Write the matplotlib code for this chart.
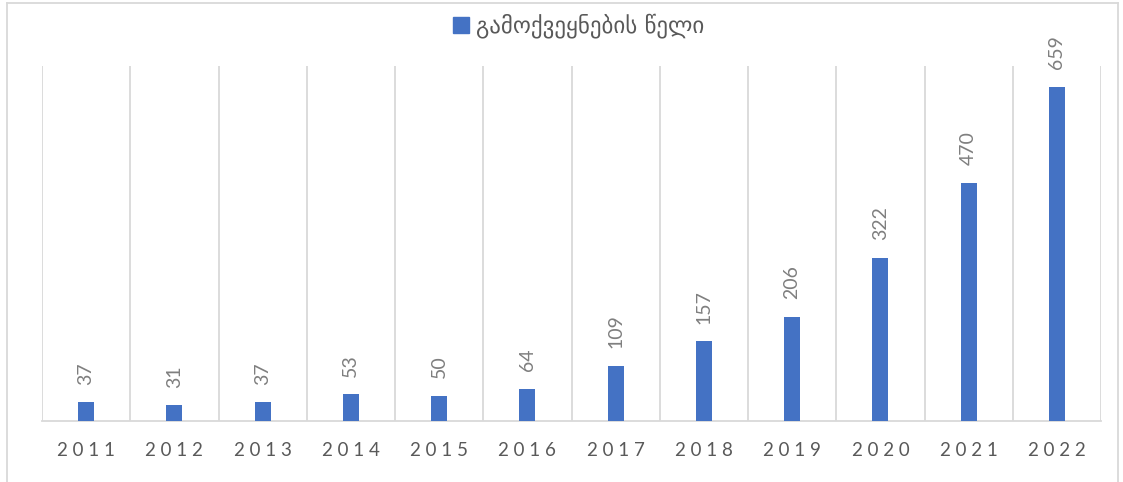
import matplotlib
matplotlib.use("Agg")
import matplotlib.pyplot as plt
from matplotlib.lines import Line2D
from matplotlib.patches import Rectangle

years = ["2011", "2012", "2013", "2014", "2015", "2016",
         "2017", "2018", "2019", "2020", "2021", "2022"]
counts = [37, 31, 37, 53, 50, 64, 109, 157, 206, 322, 470, 659]
series_name = "გამოქვეყნების წელი"

bar_color = "#4472C4"
grid_color = "#D9D9D9"
tick_color = "#595959"
value_color = "#7F7F7F"

fig = plt.figure(figsize=(11.23, 4.82), dpi=100)
ax = fig.add_axes([42 / 1123, 1 - 421 / 482, (1101 - 42) / 1123, (421 - 66) / 482])

x = list(range(len(years)))
ax.bar(x, counts, width=0.18, color=bar_color, zorder=3)

ax.set_xlim(-0.5, len(years) - 0.5)
ax.set_ylim(0, 700)

# category separators
for b in range(len(years) + 1):
    ax.axvline(b - 0.5, color=grid_color, lw=1.3, zorder=1)

for s in ("top", "right", "left"):
    ax.spines[s].set_visible(False)
ax.spines["bottom"].set_color(grid_color)
ax.spines["bottom"].set_linewidth(1.3)
ax.set_yticks([])
ax.set_xticks(x)
ax.set_xticklabels([" ".join(y) for y in years], fontsize=13.5, color=tick_color,
                   family="Lato")
ax.tick_params(axis="x", length=0, pad=15)

# value labels above bars
for xi, v in zip(x, counts):
    ax.annotate(str(v), (xi, v), xytext=(0, 12.5), textcoords="offset points",
                rotation=90, ha="center", va="bottom", fontsize=14,
                color=value_color, family="Lato")

fig.legend(handles=[Rectangle((0, 0), 1, 1, color=bar_color)],
           labels=[series_name], loc="center", bbox_to_anchor=(0.515, 1 - 26 / 482),
           frameon=False, handlelength=0.7, handleheight=0.7,
           handletextpad=0.3, labelcolor=tick_color,
           prop={"family": "DejaVu Sans", "size": 16.5})

# chart border
fig.add_artist(Line2D([7 / 1123, 7 / 1123], [0, 1 - 3 / 482], transform=fig.transFigure,
                      color=grid_color, lw=1.3))
fig.add_artist(Line2D([7 / 1123, 1118 / 1123], [1 - 3 / 482, 1 - 3 / 482],
                      transform=fig.transFigure, color=grid_color, lw=1.3))
fig.add_artist(Line2D([1118 / 1123, 1118 / 1123], [0, 1 - 3 / 482],
                      transform=fig.transFigure, color=grid_color, lw=1.3))

fig.savefig("out.png", dpi=100)
